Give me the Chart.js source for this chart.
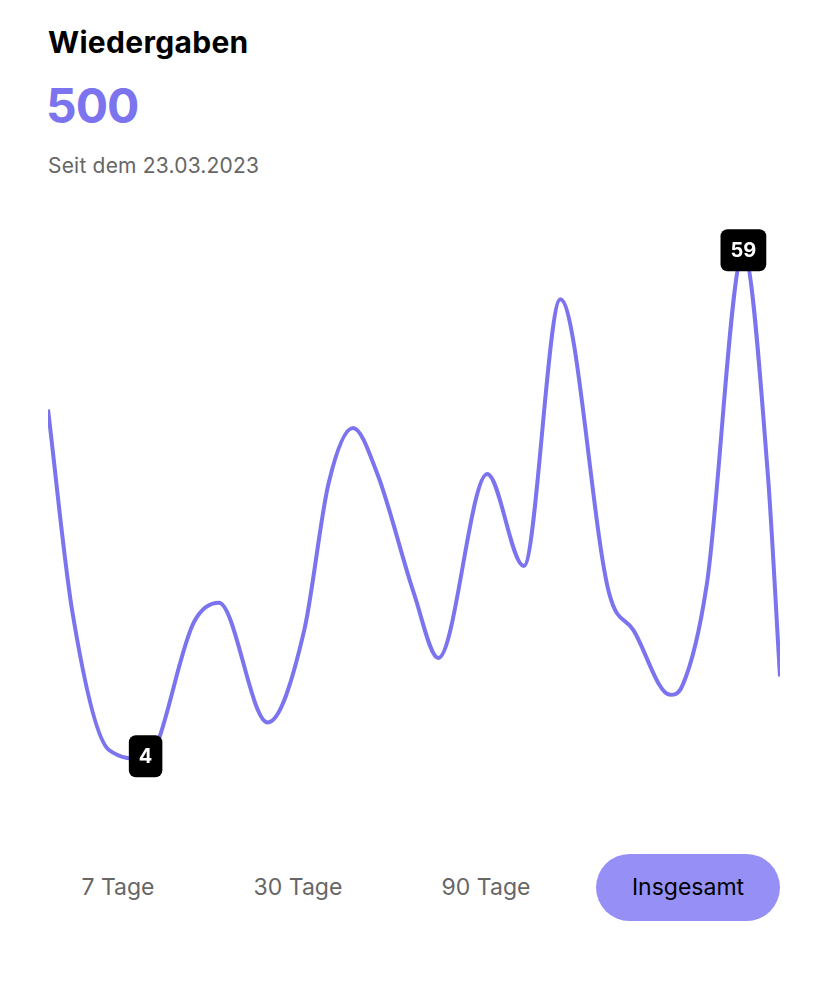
<!DOCTYPE html>
<html lang="de">
<head>
<meta charset="utf-8">
<title>Wiedergaben</title>
<script src="https://cdn.jsdelivr.net/npm/chart.js@4/dist/chart.umd.min.js"></script>
<style>
  html, body { margin: 0; padding: 0; background: #fff; }
  body { width: 828px; height: 987px; position: relative; overflow: hidden; font-family: "Inter", "Lato", sans-serif; }
  .title { position: absolute; left: 48px; top: 24px; font-size: 30px; font-weight: 700; color: #000; letter-spacing: 0.3px; }
  .total { position: absolute; left: 46px; top: 76px; font-size: 48px; font-weight: 700; color: #7b74ee; letter-spacing: -1px; }
  .since { position: absolute; left: 48px; top: 153px; font-size: 21px; color: #666; letter-spacing: 0.2px; }
  .chart-box { position: absolute; left: 48px; top: 198px; width: 732px; height: 598px; }
  .tabs { position: absolute; left: 0; top: 854px; width: 828px; height: 67px; }
  .tab { position: absolute; top: 0; height: 67px; line-height: 67px; font-size: 23px; color: #666; text-align: center; }
  .tab.active { background: #9690f6; color: #000; border-radius: 34px; }
</style>
</head>
<body>
<div class="title">Wiedergaben</div>
<div class="total">500</div>
<div class="since">Seit dem 23.03.2023</div>
<div class="chart-box"><canvas id="playsChart"></canvas></div>
<div class="tabs">
  <div class="tab" style="left:58px;width:120px;">7 Tage</div>
  <div class="tab" style="left:238px;width:120px;">30 Tage</div>
  <div class="tab" style="left:426px;width:120px;">90 Tage</div>
  <div class="tab active" style="left:596px;width:184px;">Insgesamt</div>
</div>
<script>
// days since 23.03.2023 that have a value, and the plays on that day
const days  = [0, 2, 5, 8, 12, 14, 18, 21, 23, 25, 27, 30, 32, 36, 39, 42, 46, 48, 51, 52, 54, 57, 59, 60];
const plays = [42, 20, 5, 4, 19, 21, 8, 18, 34, 40, 35, 22, 15, 35, 25, 54, 22, 18, 11, 12, 23, 59, 35, 13];
const dayMin = 0;
const dayMax = 60;
const yMin = 0;
const yMax = 65;

const LINE_COLOR = "#7b74ee";

// black badges on the lowest and highest point
const extremaLabels = {
  id: "extremaLabels",
  afterDatasetsDraw(chart) {
    const ctx = chart.ctx;
    const meta = chart.getDatasetMeta(0);
    const lo = plays.indexOf(Math.min(...plays));
    const hi = plays.indexOf(Math.max(...plays));
    for (const i of [lo, hi]) {
      const pt = meta.data[i];
      const text = String(plays[i]);
      ctx.save();
      ctx.font = "700 20px Inter, sans-serif";
      const w = Math.max(32, ctx.measureText(text).width + 20);
      const h = 42;
      ctx.fillStyle = "#000";
      ctx.beginPath();
      ctx.roundRect(pt.x - w / 2, pt.y - h / 2 - 3, w, h, 7);
      ctx.fill();
      ctx.fillStyle = "#fff";
      ctx.textAlign = "center";
      ctx.textBaseline = "middle";
      ctx.fillText(text, pt.x, pt.y - 2);
      ctx.restore();
    }
  },
};

new Chart(document.getElementById("playsChart"), {
  type: "line",
  data: {
    datasets: [{
      data: days.map((d, i) => ({ x: d, y: plays[i] })),
      borderColor: LINE_COLOR,
      borderWidth: 4,
      pointRadius: 0,
      cubicInterpolationMode: "monotone",
      fill: false,
      clip: false,
    }],
  },
  options: {
    responsive: true,
    maintainAspectRatio: false,
    animation: false,
    layout: { padding: 0 },
    plugins: { legend: { display: false }, tooltip: { enabled: false } },
    scales: {
      x: { type: "linear", display: false, min: dayMin, max: dayMax },
      y: { display: false, min: yMin, max: yMax },
    },
  },
  plugins: [extremaLabels],
});
</script>
</body>
</html>
